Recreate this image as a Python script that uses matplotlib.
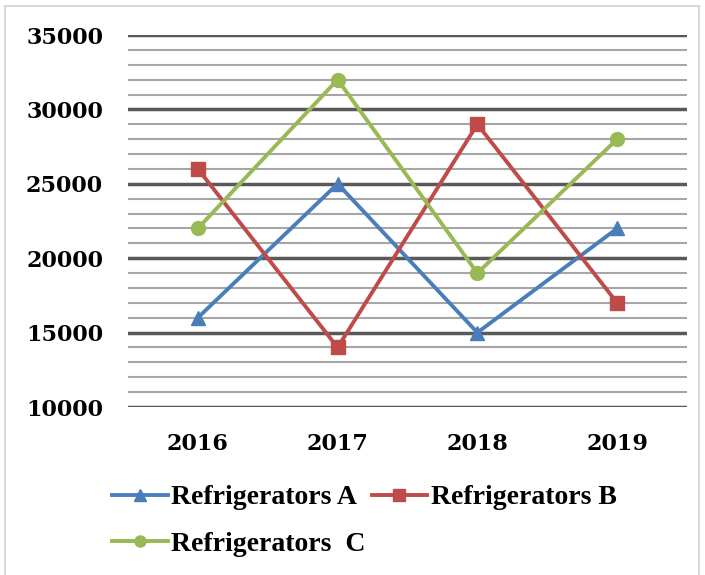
import matplotlib
matplotlib.use("Agg")
import matplotlib.pyplot as plt
from matplotlib.patches import Rectangle
from matplotlib.ticker import MultipleLocator

years = ["2016", "2017", "2018", "2019"]
refrig_a = [16000, 25000, 15000, 22000]
refrig_b = [26000, 14000, 29000, 17000]
refrig_c = [22000, 32000, 19000, 28000]
series_names = ["Refrigerators A", "Refrigerators B", "Refrigerators  C"]

W, H = 705, 575
fig = plt.figure(figsize=(W / 100, H / 100), dpi=100)
tick_font = "DejaVu Serif"
leg_font = "Liberation Serif"

# outer chart border
fig.patches.append(Rectangle((5 / W, -0.01), (699 - 5) / W, 1 - 6 / H + 0.01,
                             transform=fig.transFigure, fill=False,
                             edgecolor="#D9D9D9", lw=1.5))

ax = fig.add_axes([128 / W, 1 - 407 / H, (687 - 128) / W, (407 - 35) / H])
x = list(range(len(years)))

ax.set_xlim(-0.5, len(years) - 0.5)
ax.set_ylim(10000, 35000)
ax.yaxis.set_major_locator(MultipleLocator(5000))
ax.yaxis.set_minor_locator(MultipleLocator(1000))
ax.grid(which="minor", axis="y", color="#A6A6A6", lw=1.5)
ax.grid(which="major", axis="y", color="#595959", lw=2.5)
ax.set_axisbelow(True)
for s in ax.spines.values():
    s.set_visible(False)
ax.tick_params(which="both", length=0)
ax.tick_params(axis="y", pad=18)
ax.tick_params(axis="x", pad=19)
ax.set_xticks(x)
ax.set_xticklabels(years)
for lab in ax.get_xticklabels() + ax.get_yticklabels():
    lab.set_fontfamily(tick_font)
    lab.set_fontweight("bold")
    lab.set_fontsize(16)

lw = 2.8
la, = ax.plot(x, refrig_a, color="#4A7EBB", lw=lw, marker="^", ms=10, label=series_names[0])
lb, = ax.plot(x, refrig_b, color="#BE4B48", lw=lw, marker="s", ms=10, label=series_names[1])
lc, = ax.plot(x, refrig_c, color="#98B954", lw=lw, marker="o", ms=10, label=series_names[2])

leg = fig.legend([la, lc, lb], [series_names[0], series_names[2], series_names[1]],
                 ncol=2, loc="upper left", bbox_to_anchor=(112 / W, 1 - 485 / H),
                 frameon=False, borderpad=0, borderaxespad=0,
                 handlelength=2.0, handletextpad=0.14, markerscale=0.8,
                 columnspacing=0.2, labelspacing=0.75,
                 prop={"family": leg_font, "weight": "bold", "size": 20})

fig.savefig("out.png", dpi=100)
